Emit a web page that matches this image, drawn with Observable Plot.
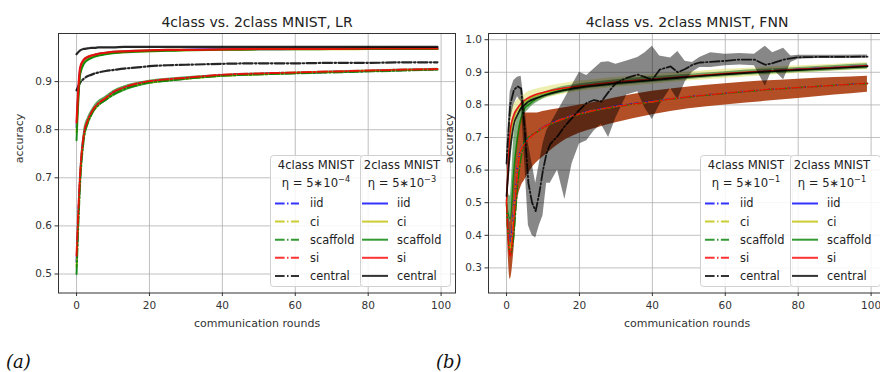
<!DOCTYPE html>
<html><head><meta charset="utf-8">
<script src="https://cdn.jsdelivr.net/npm/d3@7"></script>
<script src="https://cdn.jsdelivr.net/npm/@observablehq/plot@0.6"></script>
<style>
html,body{margin:0;padding:0;background:#fff;overflow:hidden}
#wrap{position:relative;width:880px;height:372px;overflow:hidden;background:#fff;font-family:"DejaVu Sans",sans-serif}
#wrap > svg{position:absolute;top:0}
</style></head>
<body><div id="wrap"></div>
<script>
// ---------- tick labels ----------
const X_TICKS = [0, 20, 40, 60, 80, 100];
const LR_Y_TICKS = [0.5, 0.6, 0.7, 0.8, 0.9];
const FNN_Y_TICKS = [0.3, 0.4, 0.5, 0.6, 0.7, 0.8, 0.9, 1.0];
const METHODS = ["iid", "ci", "scaffold", "si", "central"];
const COLORS = ["#0000ff", "#bfbf00", "#008000", "#ff0000", "#000000"];

// ---------- LR panel ----------
const LR_ROUNDS = [0,1,2,3,4,5,6,8,10,13,16,20,25,30,40,50,60,70,80,90,99];
const LR_2C_IID      = [0.805,0.926,0.943,0.949,0.952,0.955,0.957,0.959,0.961,0.962,0.963,0.964,0.965,0.966,0.967,0.967,0.968,0.968,0.968,0.969,0.969];
const LR_2C_CI       = [0.795,0.920,0.940,0.947,0.951,0.953,0.955,0.958,0.960,0.961,0.962,0.963,0.964,0.965,0.966,0.967,0.967,0.967,0.968,0.968,0.968];
const LR_2C_SCAFFOLD = [0.778,0.915,0.937,0.945,0.949,0.952,0.954,0.957,0.959,0.961,0.962,0.963,0.964,0.965,0.966,0.967,0.967,0.968,0.968,0.968,0.968];
const LR_2C_SI       = [0.815,0.930,0.946,0.951,0.954,0.956,0.958,0.960,0.962,0.963,0.964,0.965,0.966,0.966,0.967,0.968,0.968,0.968,0.969,0.969,0.969];
const LR_2C_CENTRAL  = [0.957,0.965,0.968,0.969,0.970,0.970,0.971,0.971,0.971,0.972,0.972,0.972,0.972,0.972,0.972,0.972,0.972,0.972,0.972,0.972,0.972];
const LR_2C_BAND_LO  = [0.770,0.905,0.930,0.940,0.945,0.949,0.951,0.955,0.957,0.959,0.961,0.962,0.963,0.964,0.965,0.966,0.966,0.967,0.967,0.967,0.967];
const LR_2C_BAND_HI  = [0.820,0.930,0.946,0.952,0.955,0.957,0.959,0.961,0.963,0.964,0.965,0.966,0.967,0.967,0.968,0.968,0.969,0.969,0.969,0.970,0.970];
const LR_4C_IID      = [0.525,0.705,0.787,0.815,0.833,0.845,0.853,0.864,0.876,0.886,0.893,0.899,0.904,0.907,0.913,0.916,0.918,0.920,0.922,0.924,0.925];
const LR_4C_CI       = [0.515,0.700,0.784,0.813,0.831,0.843,0.852,0.863,0.874,0.885,0.892,0.898,0.903,0.906,0.912,0.915,0.918,0.920,0.922,0.924,0.925];
const LR_4C_SCAFFOLD = [0.500,0.690,0.780,0.812,0.830,0.843,0.851,0.862,0.873,0.884,0.891,0.898,0.902,0.906,0.912,0.915,0.917,0.919,0.921,0.923,0.925];
const LR_4C_SI       = [0.538,0.710,0.790,0.818,0.835,0.847,0.855,0.866,0.878,0.888,0.895,0.901,0.905,0.908,0.9145,0.917,0.919,0.921,0.923,0.925,0.926];
const LR_4C_CENTRAL  = [0.882,0.898,0.906,0.911,0.914,0.917,0.919,0.922,0.924,0.927,0.929,0.932,0.934,0.935,0.937,0.938,0.938,0.939,0.939,0.940,0.940];
const LR_4C_BAND_LO  = [0.485,0.670,0.770,0.805,0.824,0.838,0.847,0.858,0.868,0.879,0.887,0.894,0.899,0.903,0.909,0.912,0.915,0.917,0.919,0.921,0.923];
const LR_4C_BAND_HI  = [0.540,0.720,0.800,0.825,0.840,0.852,0.860,0.870,0.881,0.891,0.897,0.903,0.907,0.910,0.915,0.918,0.920,0.922,0.924,0.926,0.928];

// ---------- FNN panel ----------
const FNN_ROUNDS = [0,1,2,3,4,5,6,8,10,15,20,25,30,40,50,60,70,80,90,99];
const FNN_2C_IID      = [0.505,0.710,0.765,0.788,0.802,0.812,0.820,0.830,0.836,0.849,0.857,0.863,0.869,0.878,0.887,0.895,0.902,0.909,0.915,0.921];
const FNN_2C_CI       = [0.500,0.700,0.760,0.785,0.800,0.810,0.818,0.828,0.835,0.848,0.857,0.863,0.869,0.878,0.887,0.895,0.902,0.908,0.914,0.919];
const FNN_2C_SCAFFOLD = [0.490,0.450,0.600,0.700,0.760,0.790,0.800,0.818,0.828,0.845,0.855,0.862,0.868,0.877,0.886,0.894,0.901,0.907,0.913,0.918];
const FNN_2C_SI       = [0.500,0.720,0.770,0.790,0.805,0.815,0.822,0.832,0.838,0.850,0.858,0.864,0.870,0.879,0.888,0.896,0.903,0.909,0.915,0.920];
const FNN_2C_CENTRAL  = [0.520,0.660,0.740,0.770,0.790,0.800,0.810,0.820,0.828,0.843,0.853,0.860,0.866,0.876,0.886,0.894,0.901,0.907,0.913,0.918];
const FNN_2C_CI_LO    = [0.450,0.640,0.720,0.755,0.775,0.787,0.796,0.808,0.817,0.831,0.841,0.848,0.854,0.863,0.873,0.881,0.889,0.896,0.903,0.908];
const FNN_2C_CI_HI    = [0.550,0.760,0.800,0.815,0.825,0.833,0.840,0.848,0.853,0.865,0.873,0.879,0.884,0.893,0.901,0.909,0.915,0.920,0.925,0.930];
const FNN_2C_SC_LO    = [0.430,0.400,0.500,0.640,0.720,0.770,0.785,0.805,0.818,0.835,0.846,0.853,0.859,0.869,0.878,0.886,0.893,0.899,0.905,0.910];
const FNN_2C_SC_HI    = [0.550,0.520,0.700,0.760,0.795,0.810,0.815,0.830,0.838,0.855,0.864,0.871,0.877,0.886,0.894,0.902,0.909,0.915,0.921,0.926];
const FNN_4C_IID      = [0.500,0.380,0.480,0.610,0.670,0.685,0.698,0.716,0.731,0.756,0.773,0.786,0.796,0.811,0.825,0.836,0.846,0.853,0.860,0.866];
const FNN_4C_CI       = [0.500,0.360,0.470,0.605,0.668,0.683,0.697,0.716,0.730,0.755,0.772,0.785,0.795,0.810,0.825,0.836,0.846,0.853,0.860,0.866];
const FNN_4C_SCAFFOLD = [0.495,0.340,0.400,0.550,0.640,0.690,0.700,0.715,0.729,0.754,0.771,0.784,0.794,0.810,0.824,0.835,0.845,0.853,0.860,0.866];
const FNN_4C_SI       = [0.500,0.336,0.450,0.600,0.665,0.680,0.695,0.715,0.730,0.755,0.772,0.785,0.795,0.810,0.825,0.836,0.846,0.853,0.860,0.866];
const FNN_4C_BAND_LO  = [0.480,0.265,0.350,0.500,0.550,0.570,0.590,0.620,0.640,0.685,0.713,0.730,0.745,0.770,0.788,0.800,0.810,0.820,0.830,0.839];
const FNN_4C_BAND_HI  = [0.520,0.440,0.560,0.700,0.760,0.775,0.775,0.775,0.780,0.790,0.800,0.810,0.822,0.842,0.855,0.865,0.873,0.879,0.884,0.888];
const FNN_C4_ROUNDS   = [0,1,2,3,4,5,6,7,8,9,10,11,12,14,16,18,20,22,24,26,28,30,33,36,38,40,42,45,47,49,51,53,56,60,64,68,71,73,76,78,80,85,90,99];
const FNN_4C_CENTRAL  = [0.62,0.80,0.845,0.857,0.85,0.72,0.56,0.50,0.474,0.53,0.60,0.653,0.68,0.704,0.735,0.76,0.785,0.806,0.815,0.81,0.84,0.867,0.883,0.893,0.885,0.877,0.908,0.918,0.90,0.91,0.923,0.93,0.932,0.935,0.939,0.939,0.923,0.928,0.939,0.943,0.946,0.947,0.947,0.948];
const FNN_4C_CENT_HI  = [0.65,0.84,0.875,0.885,0.888,0.80,0.68,0.62,0.56,0.62,0.68,0.72,0.74,0.78,0.82,0.86,0.90,0.89,0.91,0.93,0.932,0.925,0.935,0.945,0.96,0.98,0.95,0.944,0.964,0.934,0.93,0.945,0.96,0.955,0.958,0.955,0.98,0.96,0.974,0.95,0.952,0.952,0.952,0.953];
const FNN_4C_CENT_LO  = [0.59,0.75,0.80,0.825,0.81,0.62,0.43,0.40,0.392,0.43,0.46,0.56,0.56,0.60,0.51,0.62,0.68,0.69,0.72,0.74,0.70,0.76,0.83,0.84,0.79,0.755,0.80,0.85,0.816,0.87,0.90,0.915,0.915,0.92,0.922,0.92,0.857,0.91,0.877,0.93,0.94,0.942,0.942,0.943];

// ---------- helpers ----------
const series = (xs, ys) => xs.map((x, i) => ({x, y: ys[i]}));
const band = (xs, lo, hi) => xs.map((x, i) => ({x, lo: lo[i], hi: hi[i]}));
const DASHDOT = "9.6,2.4,1.5,2.4";
const fmt1 = d3.format(".1f");

function panel({title, yDomain, yTicks, marks}) {
  return Plot.plot({
    width: 460, height: 340,
    marginLeft: 58, marginRight: 5, marginTop: 33, marginBottom: 47.5,
    style: {fontFamily: "DejaVu Sans, sans-serif", fontSize: "10.5px", color: "#333", background: "transparent"},
    x: {domain: [-4.95, 103.95]},
    y: {domain: yDomain},
    marks: [
      Plot.gridX(X_TICKS, {stroke: "#b0b0b0", strokeOpacity: 1, strokeWidth: 0.8}),
      Plot.gridY(yTicks, {stroke: "#b0b0b0", strokeOpacity: 1, strokeWidth: 0.8}),
      ...marks,
      Plot.frame({stroke: "#333", strokeWidth: 1}),
      Plot.axisX(X_TICKS, {tickSize: 3.5, tickPadding: 5, label: null, stroke: "#333", fontSize: 10.5}),
      Plot.axisY(yTicks, {tickSize: 3.5, tickPadding: 3, label: null, tickFormat: fmt1, stroke: "#333", fontSize: 10.5}),
      Plot.text([title], {frameAnchor: "top", dy: -11, lineAnchor: "middle", fontSize: 14, fill: "#222"}),
      Plot.text(["communication rounds"], {frameAnchor: "bottom", dy: 30.5, lineAnchor: "middle", fontSize: 11, fill: "#333"}),
      Plot.text(["accuracy"], {frameAnchor: "left", dx: -39, rotate: -90, lineAnchor: "middle", fontSize: 11, fill: "#333"})
    ]
  });
}

const line = (xs, ys, color, dashed, w = 1.5, curve = "monotone-x") =>
  Plot.line(series(xs, ys), {x: "x", y: "y", stroke: color, strokeOpacity: 0.85, strokeWidth: w,
    strokeDasharray: dashed ? DASHDOT : null, curve});
const area = (xs, lo, hi, color, op, curve = "monotone-x") =>
  Plot.areaY(band(xs, lo, hi), {x: "x", y1: "lo", y2: "hi", fill: color, fillOpacity: op, curve});

// ---------- LR ----------
const lr = panel({
  title: "4class vs. 2class MNIST, LR",
  yDomain: [0.4605, 1.0],
  yTicks: LR_Y_TICKS,
  marks: [
    area(LR_ROUNDS, LR_4C_BAND_LO, LR_4C_BAND_HI, "#008000", 0.65),
    area(LR_ROUNDS, LR_2C_BAND_LO, LR_2C_BAND_HI, "#008000", 0.65),
    line(LR_ROUNDS, LR_4C_IID, COLORS[0], true, 2),
    line(LR_ROUNDS, LR_4C_CI, COLORS[1], true, 2),
    line(LR_ROUNDS, LR_4C_SCAFFOLD, COLORS[2], true, 2),
    line(LR_ROUNDS, LR_4C_SI, COLORS[3], true, 2),
    line(LR_ROUNDS, LR_4C_CENTRAL, COLORS[4], true, 2.2),
    line(LR_ROUNDS, LR_2C_IID, COLORS[0], false, 2),
    line(LR_ROUNDS, LR_2C_CI, COLORS[1], false, 2),
    line(LR_ROUNDS, LR_2C_SCAFFOLD, COLORS[2], false, 2),
    line(LR_ROUNDS, LR_2C_SI, COLORS[3], false, 2.2),
    line(LR_ROUNDS, LR_2C_CENTRAL, COLORS[4], false, 2.2)
  ]
});

// ---------- FNN ----------
const fnn = panel({
  title: "4class vs. 2class MNIST, FNN",
  yDomain: [0.223, 1.019],
  yTicks: FNN_Y_TICKS,
  marks: [
    area(FNN_ROUNDS, FNN_2C_CI_LO, FNN_2C_CI_HI, "#e0e070", 0.55),
    area(FNN_ROUNDS, FNN_2C_SC_LO, FNN_2C_SC_HI, "#2a7a2a", 0.6),
    area(FNN_ROUNDS, FNN_4C_BAND_LO, FNN_4C_BAND_HI, "#ae461a", 0.95),
    line(FNN_ROUNDS, FNN_2C_IID, COLORS[0], false),
    line(FNN_ROUNDS, FNN_2C_CI, COLORS[1], false),
    line(FNN_ROUNDS, FNN_2C_SCAFFOLD, COLORS[2], false),
    line(FNN_ROUNDS, FNN_2C_SI, COLORS[3], false),
    line(FNN_ROUNDS, FNN_2C_CENTRAL, COLORS[4], false, 1.8),
    area(FNN_C4_ROUNDS, FNN_4C_CENT_LO, FNN_4C_CENT_HI, "#000000", 0.47, "linear"),
    line(FNN_ROUNDS, FNN_4C_IID, COLORS[0], true),
    line(FNN_ROUNDS, FNN_4C_CI, COLORS[1], true),
    line(FNN_ROUNDS, FNN_4C_SCAFFOLD, COLORS[2], true),
    line(FNN_ROUNDS, FNN_4C_SI, COLORS[3], true),
    line(FNN_C4_ROUNDS, FNN_4C_CENTRAL, COLORS[4], true, 1.8, "linear")
  ]
});

const wrap = document.getElementById("wrap");

function overlay() {
  return d3.select(wrap).append("svg")
    .attr("width", 880).attr("height", 372)
    .style("left", "0px")
    .style("font-family", "DejaVu Sans, sans-serif");
}

function legend(ov, x0, exp4, exp2) {
  const g = ov.append("g").attr("transform", `translate(${x0},0)`);
  const boxes = [{x: 0, w: 92, title: "4class MNIST", exp: exp4, dashed: true},
                 {x: 90, w: 90, title: "2class MNIST", exp: exp2, dashed: false}];
  boxes.forEach((b) => {
    g.append("rect").attr("x", b.x + 0.5).attr("y", 155.5).attr("width", b.w).attr("height", 131)
      .attr("rx", 3).attr("fill", "#fff").attr("fill-opacity", 0.85).attr("stroke", "#d0d0d0");
  });
  boxes.forEach((b, k) => {
    const cx = k === 0 ? 46 : 132;
    g.append("text").attr("x", cx).attr("y", 168.5).attr("text-anchor", "middle")
      .attr("font-size", 11.6).attr("fill", "#222").text(b.title);
    const t = g.append("text").attr("x", cx).attr("y", 187).attr("text-anchor", "middle")
      .attr("font-size", 11.6).attr("fill", "#222");
    t.append("tspan").text("η = 5∗10");
    t.append("tspan").attr("dy", -5).attr("font-size", 8.2).text(b.exp);
    const lx0 = k === 0 ? 5 : 92, lx1 = k === 0 ? 29 : 118, tx = k === 0 ? 40 : 127;
    METHODS.forEach((m, i) => {
      const y = 203.5 + i * 18.1;
      g.append("line").attr("x1", lx0).attr("x2", lx1).attr("y1", y).attr("y2", y)
        .attr("stroke", COLORS[i]).attr("stroke-opacity", 0.8).attr("stroke-width", 2)
        .attr("stroke-dasharray", b.dashed ? DASHDOT : null);
      g.append("text").attr("x", tx).attr("y", y).attr("dy", "0.35em")
        .attr("font-size", 11.4).attr("fill", "#222").text(m);
    });
  });
}

lr.style.left = "0px";
wrap.appendChild(lr);
const ovA = overlay();
legend(ovA, 270, "−4", "−3");
ovA.append("text").attr("x", 6).attr("y", 368).attr("font-family", "DejaVu Serif, serif")
  .attr("font-style", "italic").attr("font-size", 18).attr("fill", "#111").text("(a)");

fnn.style.left = "430px";
wrap.appendChild(fnn);
const ovB = overlay();
legend(ovB, 700, "−1", "−1");
ovB.append("text").attr("x", 436).attr("y", 368).attr("font-family", "DejaVu Serif, serif")
  .attr("font-style", "italic").attr("font-size", 18).attr("fill", "#111").text("(b)");
</script>
</body></html>
